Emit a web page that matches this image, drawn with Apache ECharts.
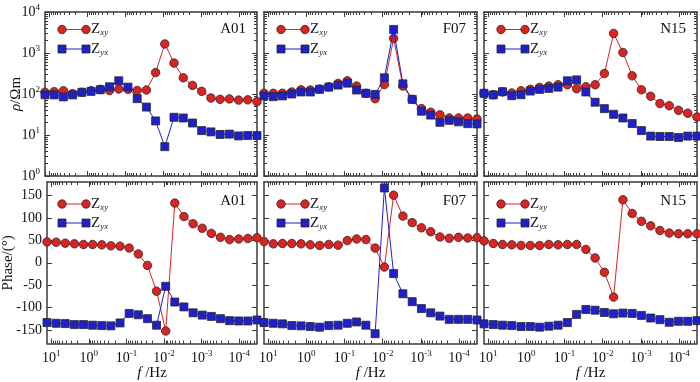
<!DOCTYPE html>
<html><head><meta charset="utf-8">
<script src="https://cdn.jsdelivr.net/npm/echarts@6/dist/echarts.min.js"></script>
<style>html,body{margin:0;padding:0;background:#fff}#c{width:700px;height:382px}</style>
</head><body><div id="c"></div>
<script>
// ---------- data ----------
const freqHz = [12.88, 7.36, 4.22, 2.41, 1.380, 0.789, 0.451, 0.258, 0.1476, 0.0845, 0.0483, 0.0276,
  0.01581, 0.00904, 0.00518, 0.00296, 0.00169, 0.000968, 0.000553, 0.000317, 0.000181, 0.0001035, 0.0000593, 0.0000339];
const stations = ['A01', 'F07', 'N15'];
const seriesNames = ['Zxy', 'Zyx'];

const rhoXY_A01 = [110,114,120,102,110,120,130,122,132,130,122,125,333,1664,569,248,162,116,80,74,76,71,72,65];
const rhoYX_A01 = [96,95,85,95,110,116,127,150,210,147,77,48,22,5.2,27,26,19.6,12.8,11.9,10.3,10.5,9.5,9.7,9.7];
const rhoXY_F07 = [104,104,104,112,127,125,132,150,181,210,156,104,77,171,2275,156,74,44,36,31,26,26,26,24.5];
const rhoYX_F07 = [90,86,90,100,112,112,130,147,165,184,125,104,98,248,3750,177,74,38,30.6,20.4,22.8,21,18.9,18.6];
const rhoXY_N15 = [104,96,112,106,120,130,145,156,168,168,134,150,168,315,3005,1028,277,127,88,58.5,52,40,34,27.4];
const rhoYX_N15 = [104,95,114,91,96,118,130,137,147,210,221,112,63,44,32,26,19,12.8,9.4,9.2,9.2,8.7,9.4,9.4];

const phsXY_A01 = [46.6,45.9,43.7,42.2,40.8,40.8,40,37.9,37.1,32.8,19.7,-5.8,-63.3,-152,133,103,87,77,65.5,56.8,51.7,53,54,56];
const phsYX_A01 = [-133,-134.7,-135.4,-137.6,-137.6,-139,-139.8,-140.5,-134,-112.8,-115.8,-124.5,-139,-52.4,-87.4,-98.3,-111.4,-116.5,-119.4,-124.5,-128.9,-129.6,-129.6,-127.4];
const phsXY_F07 = [47.3,42.2,43,43,42.2,40,38.6,40.8,39.3,49.5,53.1,51.7,32.8,-9.5,150.7,104,89.5,77.9,69.2,57.5,54.6,56.8,55.3,56];
const phsYX_F07 = [-133,-134.7,-136,-139.8,-140.5,-142,-143.4,-139.8,-139,-134.7,-131.8,-139,-158,166.7,-24,-69,-86.6,-102,-111.4,-118.7,-126,-126,-126,-127.4];
const phsXY_N15 = [48.8,43,40.8,40,38.6,38.6,38.6,40.8,40,40.8,40.8,29.8,10.9,-21,-76.4,140.5,110,92.5,82.3,72,66.2,64.8,64.8,64.8];
const phsYX_N15 = [-136,-137.6,-139,-139.8,-142,-142,-143.4,-141.2,-139,-133.2,-115,-104,-105.6,-110.7,-113.6,-112,-112.8,-117.2,-123,-126.7,-132.5,-130.3,-130.3,-128.9];

const rhoTicks = [1, 10, 100, 1000, 10000];
const phaseTicks = [-150, -100, -50, 0, 50, 100, 150];
const freqTicks = [10, 1, 0.1, 0.01, 0.001, 0.0001];

const rhoData = [[rhoXY_A01, rhoYX_A01], [rhoXY_F07, rhoYX_F07], [rhoXY_N15, rhoYX_N15]];
const phsData = [[phsXY_A01, phsYX_A01], [phsXY_F07, phsYX_F07], [phsXY_N15, phsYX_N15]];

// ---------- style / layout ----------
const FONT = 'Liberation Serif';
const RED = '#dd2222', BLUE = '#1f1fcc', EDGE = '#2a2a2a', FRAME = '#3a3a3a';
const colLeft = [45, 264, 484], colW = [212, 213, 213];
const rowTop = [12, 182], rowH = [164, 165];

const xMin = Math.min(...freqHz), xMax = Math.max(...freqHz);
const lxMin = Math.log10(xMin), lxMax = Math.log10(xMax);
const majorX = freqTicks.map(v => Math.log10(v));
const minorX = [];
for (let k = -5; k <= 1; k++) for (let m = 2; m <= 9; m++) {
  const v = k + Math.log10(m); if (v > lxMin && v < lxMax) minorX.push(v);
}
const majorY = rhoTicks.map(v => Math.log10(v));
const minorY = [];
for (let k = 0; k < 4; k++) for (let m = 2; m <= 9; m++) minorY.push(k + Math.log10(m));

const lineSt = { color: FRAME, width: 1.5 };
const tickSt = { color: FRAME, width: 1 };
const supRich = {
  b: { fontFamily: FONT, fontSize: 14, color: '#111' },
  s: { fontFamily: FONT, fontSize: 9, color: '#111', padding: [0, 0, 8, 0] }
};
const sup = e => '{b|10}{s|' + e + '}';
const logFmt = v => { const l = Math.log10(v), e = Math.round(l); return Math.abs(l - e) < 1e-6 ? sup(e) : ''; };

const grids = [], xAxes = [], yAxes = [], series = [], graphics = [];

function helper(dim, g, pos, min, max, inv, ticks, len, showLine) {
  return {
    type: 'value', gridIndex: g, min: min, max: max, inverse: inv, position: pos,
    axisLine: { show: showLine, onZero: false, lineStyle: lineSt },
    axisTick: { show: true, inside: true, length: len, customValues: ticks, lineStyle: tickSt },
    axisLabel: { show: false }, splitLine: { show: false }
  };
}

for (let r = 0; r < 2; r++) {
  for (let c = 0; c < 3; c++) {
    const g = grids.length;
    grids.push({ left: colLeft[c], top: rowTop[r], width: colW[c], height: rowH[r] });
    // x axes
    const xi = xAxes.length;
    xAxes.push({
      type: 'log', logBase: 10, gridIndex: g, min: xMin, max: xMax, inverse: true, position: 'bottom',
      axisLine: { show: true, onZero: false, lineStyle: lineSt },
      axisTick: { show: true, inside: true, length: 5, lineStyle: tickSt },
      minorTick: { show: false },
      axisLabel: { show: r === 1, formatter: logFmt, margin: 6, rich: supRich, showMinLabel: false, showMaxLabel: false },
      splitLine: { show: false },
      name: r === 1 ? '{i|f}{n| /Hz}' : '', nameLocation: 'middle', nameGap: 20,
      nameTextStyle: { rich: { i: { fontFamily: FONT, fontSize: 15, fontStyle: 'italic', color: '#111' }, n: { fontFamily: FONT, fontSize: 15, color: '#111' } } }
    });
    xAxes.push(helper('x', g, 'bottom', lxMin, lxMax, true, minorX, 3, false));
    xAxes.push(helper('x', g, 'top', lxMin, lxMax, true, majorX, 5, true));
    xAxes.push(helper('x', g, 'top', lxMin, lxMax, true, minorX, 3, false));
    // y axes
    const yi = yAxes.length;
    if (r === 0) {
      yAxes.push({
        type: 'log', logBase: 10, gridIndex: g, min: 1, max: 10000, position: 'left',
        axisLine: { show: true, onZero: false, lineStyle: lineSt },
        axisTick: { show: true, inside: true, length: 5, lineStyle: tickSt },
        minorTick: { show: false },
        axisLabel: { show: c === 0, formatter: logFmt, margin: 5, rich: supRich },
        splitLine: { show: false },
        name: c === 0 ? '{i|ρ}{n|/Ωm}' : '', nameLocation: 'middle', nameGap: 21, nameRotate: 90,
        nameMoveOverlap: false,
        nameTextStyle: { rich: { i: { fontFamily: FONT, fontSize: 15, fontStyle: 'italic', color: '#111' }, n: { fontFamily: FONT, fontSize: 15, color: '#111' } } }
      });
      yAxes.push(helper('y', g, 'left', 0, 4, false, minorY, 3, false));
      yAxes.push(helper('y', g, 'right', 0, 4, false, majorY, 5, true));
      yAxes.push(helper('y', g, 'right', 0, 4, false, minorY, 3, false));
    } else {
      yAxes.push({
        type: 'value', gridIndex: g, min: -180, max: 180, position: 'left',
        axisLine: { show: true, onZero: false, lineStyle: lineSt },
        axisTick: { show: true, inside: true, length: 5, customValues: phaseTicks, lineStyle: tickSt },
        axisLabel: { show: c === 0, customValues: phaseTicks, margin: 5, fontFamily: FONT, fontSize: 14, color: '#111' },
        splitLine: { show: false },
        name: c === 0 ? 'Phase/(°)' : '', nameLocation: 'middle', nameGap: 31, nameRotate: 90,
        nameMoveOverlap: false,
        nameTextStyle: { fontFamily: FONT, fontSize: 15, color: '#111' }
      });
      yAxes.push(helper('y', g, 'right', -180, 180, false, phaseTicks, 5, true));
    }
    // series
    const sets = r === 0 ? rhoData[c] : phsData[c];
    [0, 1].forEach(s => {
      series.push({
        name: seriesNames[s], type: 'line', xAxisIndex: xi, yAxisIndex: yi,
        data: freqHz.map((f, i) => [f, sets[s][i]]),
        symbol: s === 0 ? 'circle' : 'rect', symbolSize: s === 0 ? 8.5 : 8,
        itemStyle: { color: s === 0 ? RED : BLUE, borderColor: EDGE, borderWidth: 0.8 },
        lineStyle: { color: s === 0 ? RED : BLUE, width: 1 },
        clip: false, animation: false, z: 3 + s
      });
    });
    // legend drawing (decoration)
    const L = colLeft[c], T = rowTop[r];
    const ly = r === 0 ? [T + 17.5, T + 37] : [T + 22, T + 41];
    [0, 1].forEach(s => {
      const col = s === 0 ? RED : BLUE;
      const x1 = L + 17, x2 = L + 41, y = ly[s];
      graphics.push({ type: 'line', shape: { x1: x1, y1: y, x2: x2, y2: y }, style: { stroke: col, lineWidth: 1 }, z: 10 });
      [x1, x2].forEach(x => {
        if (s === 0) graphics.push({ type: 'circle', shape: { cx: x, cy: y, r: 4.2 }, style: { fill: col, stroke: EDGE, lineWidth: 0.8 }, z: 11 });
        else graphics.push({ type: 'rect', shape: { x: x - 4, y: y - 4, width: 8, height: 8 }, style: { fill: col, stroke: EDGE, lineWidth: 0.8 }, z: 11 });
      });
      graphics.push({
        type: 'text', x: L + 46, y: y, z: 11,
        style: {
          text: '{z|Z}{s|' + (s === 0 ? 'xy' : 'yx') + '}', verticalAlign: 'middle',
          rich: { z: { fontFamily: FONT, fontSize: 15, fill: '#222' }, s: { fontFamily: FONT, fontSize: 9, fontStyle: 'italic', fill: '#222', padding: [7, 0, 0, 0] } }
        }
      });
    });
    graphics.push({
      type: 'text', x: L + colW[c] - 11, y: T + (r === 0 ? 17 : 19), z: 11,
      style: { text: stations[c], align: 'right', verticalAlign: 'middle', fontFamily: FONT, fontSize: 15, fill: '#111' }
    });
  }
}

const chart = echarts.init(document.getElementById('c'), null, { renderer: 'canvas' });
chart.setOption({
  animation: false, backgroundColor: '#fff',
  grid: grids, xAxis: xAxes, yAxis: yAxes, series: series, graphic: { elements: graphics }
});
</script></body></html>
